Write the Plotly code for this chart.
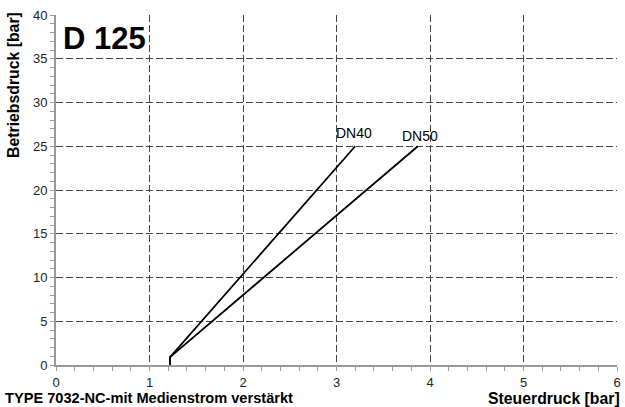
import plotly.graph_objects as go

# Curves: control pressure (x) vs. operating pressure (y)
dn40_x = [1.22, 1.22, 3.20]
dn40_y = [0.0, 0.9, 25.0]
dn50_x = [1.22, 1.22, 3.87]
dn50_y = [0.0, 0.9, 25.0]

x_ticks = [0, 1, 2, 3, 4, 5, 6]
y_ticks = [0, 5, 10, 15, 20, 25, 30, 35, 40]

FONT = "Liberation Sans, Arial, sans-serif"

fig = go.Figure()
for xs, ys in [(dn40_x, dn40_y), (dn50_x, dn50_y)]:
    fig.add_trace(go.Scatter(x=xs, y=ys, mode="lines",
                             line=dict(color="black", width=1.8),
                             showlegend=False, hoverinfo="skip"))

fig.add_annotation(x=3.19, y=26.5, text="DN40", showarrow=False,
                   font=dict(family=FONT, size=14, color="black"))
fig.add_annotation(x=3.89, y=26.2, text="DN50", showarrow=False,
                   font=dict(family=FONT, size=14, color="black"))

fig.add_annotation(x=0.055, y=39.6, text="<b>D 125</b>", showarrow=False,
                   xanchor="left", yanchor="top", bgcolor="white",
                   font=dict(family=FONT, size=31, color="black"))

fig.add_annotation(xref="paper", yref="paper", x=-0.094, y=-0.066,
                   text="<b>TYPE 7032-NC-mit Medienstrom verstärkt</b>",
                   showarrow=False, xanchor="left", yanchor="top",
                   font=dict(family=FONT, size=14.6, color="black"))
fig.add_annotation(xref="paper", yref="paper", x=1.009, y=-0.066,
                   text="<b>Steuerdruck [bar]</b>",
                   showarrow=False, xanchor="right", yanchor="top",
                   font=dict(family=FONT, size=15.8, color="black"))
fig.add_annotation(xref="paper", yref="paper", x=-0.075, y=0.8,
                   text="<b>Betriebsdruck [bar]</b>", textangle=-90,
                   showarrow=False, xanchor="center", yanchor="middle",
                   font=dict(family=FONT, size=15.8, color="black"))

axis_common = dict(
    showgrid=True, gridcolor="#444", griddash="7px,3px", gridwidth=1,
    showline=True, linecolor="#999", linewidth=2,
    ticks="outside", ticklen=4, tickcolor="#999",
    zeroline=False, automargin=False,
    tickfont=dict(family=FONT, size=13, color="#222"),
)

fig.update_layout(
    width=625, height=407,
    margin=dict(l=56, r=8, t=15, b=42),
    paper_bgcolor="white", plot_bgcolor="white",
    font=dict(family=FONT, size=13, color="#222"),
    xaxis=dict(range=[0, 6], tickvals=x_ticks, ticklabelstandoff=0,
               minor=dict(dtick=0.2, ticks="outside", ticklen=4,
                          tickcolor="#999", showgrid=False),
               **axis_common),
    yaxis=dict(range=[0, 40], tickvals=y_ticks,
               minor=dict(dtick=1, ticks="outside", ticklen=4,
                          tickcolor="#999", showgrid=False),
               **axis_common),
)

fig.write_html("out.html")
